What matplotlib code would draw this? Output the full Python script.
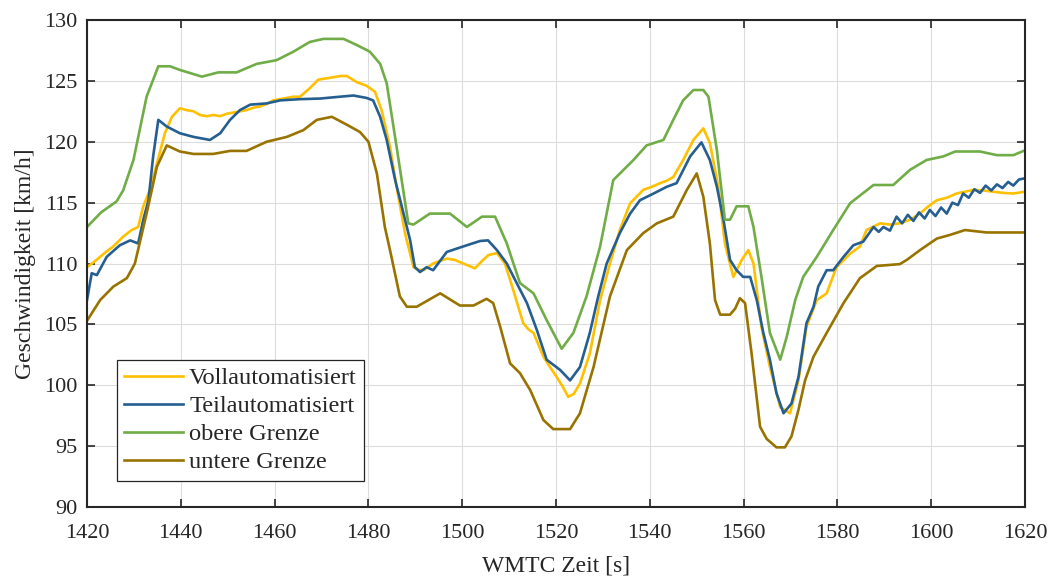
import numpy as np
import matplotlib
matplotlib.use("Agg")
import matplotlib.pyplot as plt

# Daten
t_voll = [1420, 1421.4, 1422.8, 1424.2, 1425.6, 1427.7, 1429.5, 1430.9, 1432, 1433.4, 1434.9,
          1436.6, 1438.1, 1439.8, 1441.2, 1442.7, 1444.1, 1445.5, 1447, 1448.4, 1449.8, 1451.2,
          1452.6, 1454, 1455.5, 1456.9, 1458.3, 1459.7, 1461.2, 1462.6, 1464, 1465.4, 1467.5,
          1469.3, 1470.9, 1472.5, 1474, 1475.4, 1477.5, 1479.6, 1481.4, 1482.8, 1484.6, 1486,
          1487.8, 1489.6, 1490.6, 1491.7, 1493.8, 1495.2, 1496.7, 1498.4, 1500.2, 1501.5, 1502.7,
          1504.2, 1505.6, 1507.4, 1509.1, 1510.9, 1513, 1514.1, 1515.2, 1517.3, 1518.7, 1520.1,
          1521.4, 1522.6, 1523.8, 1525.1, 1527.2, 1529.4, 1531.5, 1533.6, 1535.8, 1538.6, 1540.4,
          1542.2, 1543.6, 1545, 1547.1, 1549.3, 1551.4, 1552.8, 1554.6, 1556, 1557.8, 1559.6, 1561,
          1562.1, 1563.8, 1565.6, 1567.8, 1569.9, 1571.7, 1573.4, 1575.6, 1577.7, 1579.8, 1582.7,
          1584.8, 1586.2, 1589.1, 1591.2, 1593.3, 1595.5, 1597.6, 1599.4, 1601.2, 1603.3, 1605.4,
          1607.2, 1609, 1611.1, 1613.2, 1615.4, 1617.5, 1620]
v_voll = [109.7, 110.1, 110.55, 111.0, 111.4, 112.2, 112.75, 113.0, 114.7, 116.05, 118.2,
          120.7, 122.05, 122.75, 122.6, 122.5, 122.2, 122.1, 122.2, 122.1, 122.3, 122.4,
          122.5, 122.6, 122.8, 122.9, 123.1, 123.4, 123.5, 123.6, 123.7, 123.7, 124.4,
          125.1, 125.2, 125.3, 125.4, 125.4, 124.9, 124.6, 124.1, 122.6, 119.6, 116.3,
          112.5, 109.7, 109.5, 109.45, 110.0, 110.2, 110.4, 110.3, 110.0, 109.8, 109.6,
          110.2, 110.7, 110.85, 110.0, 107.8, 105.1, 104.6, 104.3, 102.35, 101.5, 100.7,
          99.9, 99.05, 99.3, 100.15, 102.6, 107.0, 110.0, 112.75, 114.95, 116.05, 116.3,
          116.6, 116.8, 117.1, 118.5, 120.15, 121.1, 119.9, 116.3, 111.65, 108.9, 110.3, 111.1,
          110.0, 104.8, 101.5, 98.2, 97.7, 100.4, 104.8, 107.0, 107.55, 109.7, 110.8,
          111.4, 112.75, 113.3, 113.2, 113.3, 113.6, 114.1, 114.7, 115.2, 115.4, 115.75,
          115.9, 116.05, 116.0, 115.9, 115.8, 115.75, 115.9]

t_teil = [1420, 1421, 1422.1, 1424.2, 1427, 1429.2, 1430.9, 1432, 1433.1, 1434.1, 1435.2,
          1437, 1439.8, 1442.7, 1446.2, 1448.4, 1450.5, 1452.6, 1454.8, 1458.3, 1461.2, 1465.4,
          1469.7, 1473.9, 1476.8, 1479.6, 1481, 1482.5, 1483.9, 1485.7, 1487.1, 1488.9, 1489.9,
          1491, 1492.4, 1493.8, 1496.7, 1500.2, 1503.8, 1505.5, 1507.4, 1509.5, 1511.6, 1513.8,
          1515.9, 1518, 1520.9, 1523, 1525.1, 1527.2, 1529, 1530.8, 1533.6, 1535.8, 1537.9,
          1540.8, 1543.6, 1545.7, 1548.6, 1551, 1552.8, 1554.3, 1555.7, 1557.1, 1558.5, 1559.9,
          1561.4, 1562.8, 1564.2, 1565.6, 1567, 1568.5, 1570.2, 1571.7, 1573.4, 1574.9, 1575.9,
          1577.7, 1579.1, 1581.3, 1583.4, 1585.5, 1587.7, 1588.8, 1589.8, 1591.2, 1592.6, 1593.8,
          1595, 1596.2, 1597.4, 1598.6, 1599.7, 1600.9, 1602.1, 1603.3, 1604.5, 1605.7, 1606.8,
          1608, 1609.2, 1610.4, 1611.6, 1612.8, 1614, 1615.2, 1616.4, 1617.5, 1618.7, 1620]
v_teil = [107.0, 109.2, 109.05, 110.55, 111.5, 111.9, 111.65, 113.6, 115.2, 118.8, 121.8,
          121.25, 120.7, 120.4, 120.15, 120.7, 121.8, 122.6, 123.05, 123.15, 123.4, 123.5,
          123.55, 123.7, 123.8, 123.6, 123.4, 122.05, 120.15, 116.85, 114.7, 111.9, 109.7,
          109.3, 109.7, 109.45, 110.95, 111.4, 111.85, 111.9, 111.1, 110.0, 108.4, 106.75,
          104.55, 102.1, 101.25, 100.4, 101.5, 104.3, 107.3, 110.0, 112.5, 114.1, 115.2,
          115.75, 116.3, 116.6, 118.8, 119.95, 118.5, 116.3, 113.6, 110.3, 109.45, 108.9,
          108.9, 107.0, 104.3, 102.1, 99.35, 97.7, 98.5, 100.7, 105.1, 106.45, 108.1,
          109.45, 109.45, 110.55, 111.5, 111.8, 113.0, 112.6, 113.0, 112.7, 113.85, 113.3,
          114.0, 113.5, 114.2, 113.7, 114.4, 113.9, 114.6, 114.1, 115.0, 114.8, 115.75,
          115.4, 116.1, 115.8, 116.4, 116.0, 116.5, 116.2, 116.7, 116.4, 116.9, 117.0]

t_oben = [1420, 1423, 1426.3, 1427.7, 1429.9, 1432.7, 1435.2, 1437.7, 1439.8, 1444.5, 1448,
          1451.9, 1456.2, 1460.4, 1464, 1467.5, 1470.4, 1474.7, 1477.5, 1480.3, 1482.5, 1483.9,
          1486, 1488.5, 1489.6, 1493.1, 1497.4, 1501, 1504.2, 1507, 1509.5, 1512.3, 1515.2,
          1518, 1521.2, 1523.7, 1526.5, 1529.4, 1532.2, 1536.5, 1539.3, 1542.9, 1545, 1547.1,
          1549.3, 1551.4, 1552.5, 1554.3, 1556, 1557.1, 1558.5, 1561, 1562.1, 1563.8, 1565.6,
          1567.8, 1569.2, 1571, 1572.7, 1575.6, 1579.1, 1582.7, 1587.7, 1591.9, 1595.5, 1599,
          1602.6, 1605.1, 1610.4, 1614, 1617.5, 1620]
v_oben = [113.0, 114.2, 115.1, 116.0, 118.5, 123.7, 126.2, 126.2, 125.9, 125.35, 125.7,
          125.7, 126.4, 126.7, 127.4, 128.2, 128.45, 128.45, 127.95, 127.4, 126.4, 124.8,
          119.6, 113.3, 113.2, 114.1, 114.1, 113.0, 113.85, 113.85, 111.65, 108.4, 107.55,
          105.35, 103.0, 104.3, 107.3, 111.4, 116.85, 118.5, 119.7, 120.15, 121.8, 123.4,
          124.25, 124.25, 123.7, 119.3, 113.6, 113.6, 114.7, 114.7, 113.0, 108.9, 104.3,
          102.1, 104.0, 107.0, 108.9, 110.55, 112.75, 114.95, 116.45, 116.45, 117.7, 118.5,
          118.8, 119.2, 119.2, 118.9, 118.9, 119.3]

t_unten = [1420, 1422.8, 1425.6, 1428.5, 1430.2, 1432.7, 1434.9, 1437, 1439.8, 1442.7, 1446.9,
           1450.5, 1454, 1458.3, 1462.6, 1466.1, 1469, 1472.2, 1475.4, 1478.2, 1480, 1481.8,
           1483.5, 1484.6, 1486.7, 1488.2, 1490.3, 1495.3, 1499.5, 1502.4, 1505.2, 1506.6, 1508.1,
           1510.2, 1512.3, 1514.5, 1517.3, 1519.4, 1523, 1525.1, 1528, 1531.5, 1535.1, 1538.6,
           1541.5, 1545, 1547.9, 1550, 1551.4, 1552.8, 1553.9, 1555, 1557.1, 1558.2, 1559.2,
           1560.3, 1561.7, 1563.5, 1564.9, 1567, 1568.8, 1570.2, 1571.7, 1573.1, 1574.9, 1577.7,
           1581.3, 1584.8, 1588.4, 1593.3, 1594.8, 1597.6, 1601.2, 1604, 1607.2, 1611.8, 1620]
v_unten = [105.3, 107.0, 108.1, 108.8, 110.0, 114.1, 117.95, 119.7, 119.2, 119.0, 119.0,
           119.25, 119.25, 120.0, 120.4, 120.95, 121.8, 122.05, 121.4, 120.8, 120.0, 117.4,
           113.0, 111.1, 107.3, 106.45, 106.45, 107.55, 106.55, 106.55, 107.1, 106.75, 104.8,
           101.8, 101.0, 99.6, 97.15, 96.4, 96.4, 97.7, 101.5, 107.3, 111.1, 112.5,
           113.3, 113.85, 116.05, 117.4, 115.5, 111.65, 107.0, 105.8, 105.8, 106.3, 107.15,
           106.75, 102.6, 96.6, 95.6, 94.9, 94.9, 95.8, 98.0, 100.4, 102.35, 104.3,
           106.75, 108.8, 109.8, 109.95, 110.3, 111.1, 112.05, 112.35, 112.75, 112.55, 112.55]

labels = ["Vollautomatisiert", "Teilautomatisiert", "obere Grenze", "untere Grenze"]
farben = ["#FFC000", "#255E91", "#70AD47", "#997300"]

plt.rcParams["font.family"] = ["Liberation Serif", "DejaVu Serif"]
plt.rcParams["text.color"] = "#262626"

fig = plt.figure(figsize=(10.51, 5.77), dpi=100)
ax = fig.add_axes([0.0828, 0.1213, 0.8925, 0.844])

ax.plot(t_voll, v_voll, color=farben[0], lw=1.9, label=labels[0])
ax.plot(t_teil, v_teil, color=farben[1], lw=1.9, label=labels[1])
ax.plot(t_oben, v_oben, color=farben[2], lw=1.9, label=labels[2])
ax.plot(t_unten, v_unten, color=farben[3], lw=1.9, label=labels[3])

ax.set_xlim(1420, 1620)
ax.set_ylim(90, 130)
ax.set_xticks(np.arange(1420, 1621, 20))
ax.set_yticks(np.arange(90, 131, 5))
ax.grid(True, color="#dcdcdc", lw=0.8)
ax.tick_params(direction="in", length=6, width=1.2, top=True, right=True,
               labelsize=16, colors="#262626")
ax.tick_params(axis="x", pad=12)
ax.tick_params(axis="y", pad=7)
for s in ax.spines.values():
    s.set_linewidth(1.5)
    s.set_color("#262626")

ax.set_xlabel("WMTC Zeit [s]", fontsize=17, color="#262626", labelpad=9)
ax.set_ylabel("Geschwindigkeit [km/h]", fontsize=17, color="#262626", labelpad=6)

leg = ax.legend(loc="lower left", bbox_to_anchor=(0.032, 0.054), fontsize=17.6,
                handlelength=2.4, handletextpad=0.25, borderpad=0.3, labelspacing=0.24,
                fancybox=False, framealpha=1, borderaxespad=0)
leg.get_frame().set_edgecolor("#262626")
leg.get_frame().set_linewidth(0.9)

plt.savefig("out.png", dpi=100)
